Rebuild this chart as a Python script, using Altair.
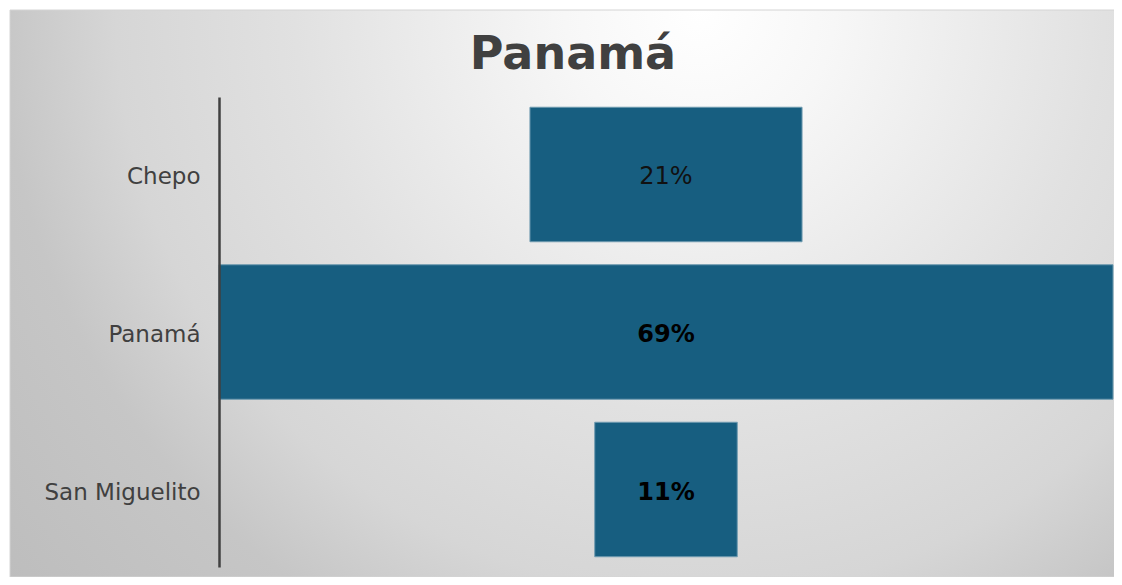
import altair as alt
import pandas as pd

categories = ["Chepo", "Panamá", "San Miguelito"]
values = [21, 69, 11]
labels = ["21%", "69%", "11%"]
bold = [False, True, True]

df = pd.DataFrame({"cat": categories, "value": values, "label": labels, "bold": bold})

W, H = 894, 470
half = max(values) / 2

y_enc = alt.Y(
    "cat:N",
    sort=categories,
    scale=alt.Scale(paddingInner=0.146, paddingOuter=0.065),
    axis=alt.Axis(
        title=None, ticks=False, grid=False, domain=True,
        domainColor="#404040", domainWidth=2.5,
        labelFont="DejaVu Sans", labelFontSize=23, labelColor="#404040",
        labelPadding=19, labelOffset=3, zindex=1,
    ),
)
xs = alt.Scale(domain=[-half, half], nice=False, zero=False)

base = alt.Chart(df).transform_calculate(
    lo="-datum.value/2", hi="datum.value/2", mid="0"
)

# background frame with radial gradient (rect from x=-209..900, y=-87..480)
bgW, bgH = 1109.0, 567.0
cy0 = (bgW - bgH) / 2 / bgW
bg = alt.Chart(pd.DataFrame({"d": [0]})).mark_rect(
    fill=alt.Gradient(
        gradient="radial", x1=0.622, y1=cy0, r1=0, x2=0.622, y2=cy0, r2=0.81,
        stops=[
            alt.GradientStop(offset=0, color="#ffffff"),
            alt.GradientStop(offset=0.15, color="#f7f7f7"),
            alt.GradientStop(offset=0.45, color="#e1e1e1"),
            alt.GradientStop(offset=0.65, color="#d6d6d6"),
            alt.GradientStop(offset=0.78, color="#c6c6c6"),
            alt.GradientStop(offset=1, color="#bdbdbd"),
        ],
    ),
    stroke="#d4d4d4", strokeWidth=1,
).encode(x=alt.value(-209), x2=alt.value(900), y=alt.value(-87), y2=alt.value(480))

bars = base.mark_bar(color="#175e80", stroke="#6f9bb0", strokeWidth=1).encode(
    x=alt.X("lo:Q", scale=xs, axis=None), x2="hi:Q", y=y_enc
)

txt_norm = base.transform_filter("!datum.bold").mark_text(
    font="DejaVu Sans", fontSize=24, color="#111111", dy=3
).encode(x=alt.X("mid:Q", scale=xs, axis=None), y=y_enc, text="label:N")

txt_bold = base.transform_filter("datum.bold").mark_text(
    font="DejaVu Sans", fontSize=24, fontWeight="bold", color="#000000", dy=3
).encode(x=alt.X("mid:Q", scale=xs, axis=None), y=y_enc, text="label:N")

chart = alt.layer(bg, bars, txt_norm, txt_bold).properties(
    width=W, height=H,
    autosize=alt.AutoSizeParams(type="none"),
    padding={"left": 211, "top": 89, "right": 1, "bottom": 10},
    title=alt.Title(
        "Panamá", font="DejaVu Sans", fontSize=46, fontWeight="bold",
        color="#404040", anchor="middle", frame="group", dx=-93,
        offset=-105, baseline="alphabetic",
    ),
).configure_view(stroke=None).configure(background="white")

chart.save("out.html", embed_options={"renderer": "svg", "actions": False})
